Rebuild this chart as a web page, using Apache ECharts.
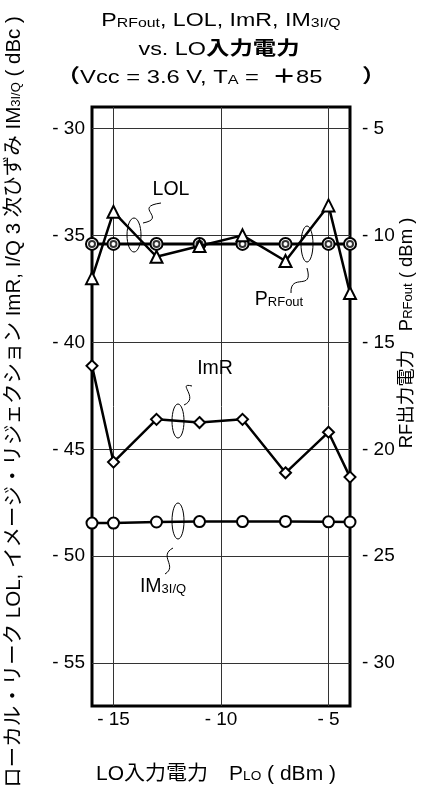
<!DOCTYPE html>
<html>
<head>
<meta charset="utf-8">
<script src="https://cdn.jsdelivr.net/npm/echarts@6/dist/echarts.min.js"></script>
<style>
  html, body { margin: 0; padding: 0; background: #fff; }
  #chart { width: 424px; height: 807px; }
</style>
</head>
<body>
<div id="chart"></div>
<script>
// LO input power (dBm)
var loPower = [-16, -15, -13, -11, -9, -7, -5, -4]
// right axis (dBm)
var prfOut = [-10.4, -10.4, -10.4, -10.4, -10.4, -10.4, -10.4, -10.4]
// left axis (dBc)
var lol = [-37.0, -33.9, -36.0, -35.5, -35.0, -36.2, -33.6, -37.7]
var imr = [-41.1, -45.6, -43.6, -43.75, -43.6, -46.1, -44.2, -46.3]
var im3 = [-48.45, -48.45, -48.4, -48.38, -48.38, -48.37, -48.39, -48.4]

var xTicks = [-15, -10, -5]
var leftTicks = [-55, -50, -45, -40, -35, -30]
var rightTicks = [-30, -25, -20, -15, -10, -5]

var FONT = '"Liberation Sans", "Noto Sans CJK JP", sans-serif'

function pairs(ys) {
  return loPower.map(function(x, i) { return [x, ys[i]] })
}
function minusFmt(v) {
  return v < 0 ? '- ' + Math.abs(v) : String(v)
}

function richFor(size, sub) {
  return {
    n: { fontSize: size, fontFamily: FONT, color: '#000', verticalAlign: 'bottom' },
    b: { fontSize: size, fontFamily: FONT, fontWeight: 'bold', color: '#000', verticalAlign: 'bottom' },
    s: { fontSize: sub, fontFamily: FONT, color: '#000', verticalAlign: 'bottom', padding: [0, 0, 1, 0] }
  }
}

function label(x, y, text, size, sub, sx, rot) {
  return {
    type: 'text', x: x, y: y, scaleX: sx || 1, rotation: rot || 0, z: 20,
    style: {
      text: text, font: size + 'px ' + FONT, fill: '#000',
      align: 'center', verticalAlign: 'middle', rich: richFor(size, sub)
    }
  }
}
var thin = { fill: 'none', stroke: '#000', lineWidth: 1 }

var myChart = echarts.init(document.getElementById('chart'))
var option = {
  animation: false,
  backgroundColor: '#fff',
  textStyle: { fontFamily: FONT },
  grid: {
    left: 92,
    right: 74,
    top: 107,
    bottom: 101,
    show: true,
    borderColor: '#000',
    borderWidth: 3
  },
  xAxis: {
    type: 'value',
    min: -16,
    max: -4,
    axisLine: { show: false },
    axisTick: { show: false, customValues: xTicks },
    splitLine: { show: true, lineStyle: { color: '#333', width: 1 } },
    axisLabel: {
      customValues: xTicks,
      formatter: minusFmt,
      color: '#000',
      fontSize: 19,
      margin: 4
    }
  },
  yAxis: [
    {
      type: 'value',
      min: -57,
      max: -29,
      axisLine: { show: false },
      axisTick: { show: false, customValues: leftTicks },
      splitLine: { show: true, lineStyle: { color: '#333', width: 1 } },
      axisLabel: {
        customValues: leftTicks,
        formatter: minusFmt,
        color: '#000',
        fontSize: 19,
        margin: 7
      }
    },
    {
      type: 'value',
      min: -32,
      max: -4,
      position: 'right',
      axisLine: { show: false },
      axisTick: { show: false, customValues: rightTicks },
      splitLine: { show: false },
      axisLabel: {
        customValues: rightTicks,
        formatter: minusFmt,
        color: '#000',
        fontSize: 19,
        margin: 12
      }
    }
  ],
  graphic: [
    // title
    label(221, 21, 'P{s|RFout}{n|, LOL, ImR, IM}{s|3I/Q}', 19, 13, 1.22),
    label(219, 50, 'vs. LO{b|入力電力}', 19, 13, 1.23),
    label(221, 78, '{b|（}Vcc = 3.6 V, T{s|A}{n| =  }{b|＋}{n|85      }{b|）}', 19, 13, 1.25),
    // axis names
    label(216, 774, 'LO入力電力　P{s|LO}{n| ( dBm )}', 20, 13, 1.05),
    label(14, 402, 'ローカル・リーク LOL, イメージ・リジェクション ImR, I/Q 3 次ひずみ IM{s|3I/Q}{n| ( dBc )}', 20.5, 13, 1, Math.PI / 2),
    label(407, 333, 'RF出力電力　P{s|RFout}{n| ( dBm )}', 18.5, 13, 1, Math.PI / 2),
    // annotation labels
    label(171, 190, 'LOL', 19.5, 13),
    label(279, 300, 'P{s|RFout}', 19.5, 13),
    label(215, 369, 'ImR', 19.5, 13),
    label(163, 587, 'IM{s|3I/Q}', 19.5, 13),
    // loops
    { type: 'ellipse', shape: { cx: 134, cy: 235, rx: 7, ry: 17 }, style: thin, z: 10 },
    { type: 'ellipse', shape: { cx: 307, cy: 244, rx: 6, ry: 18 }, style: thin, z: 10 },
    { type: 'ellipse', shape: { cx: 178, cy: 421, rx: 6, ry: 17 }, style: thin, z: 10 },
    { type: 'ellipse', shape: { cx: 178, cy: 521, rx: 6, ry: 18 }, style: thin, z: 10 },
    // squiggles
    { type: 'bezierCurve', shape: { x1: 143, y1: 223, cpx1: 168, cpy1: 218, cpx2: 132, cpy2: 207, x2: 161, y2: 203 }, style: thin, z: 10 },
    { type: 'bezierCurve', shape: { x1: 307, y1: 268, cpx1: 314, cpy1: 292, cpx2: 290, cpy2: 272, x2: 291, y2: 293 }, style: thin, z: 10 },
    { type: 'bezierCurve', shape: { x1: 192, y1: 386, cpx1: 176, cpy1: 382, cpx2: 200, cpy2: 398, x2: 184, y2: 405 }, style: thin, z: 10 },
    { type: 'bezierCurve', shape: { x1: 173, y1: 548, cpx1: 158, cpy1: 556, cpx2: 178, cpy2: 566, x2: 165, y2: 574 }, style: thin, z: 10 }
  ],
  series: [
    {
      name: 'IM3I/Q',
      type: 'line',
      data: pairs(im3),
      symbol: 'emptyCircle',
      symbolSize: 11,
      lineStyle: { color: '#000', width: 2.5 },
      itemStyle: { color: '#000', borderWidth: 1.3 }
    },
    {
      name: 'ImR',
      type: 'line',
      data: pairs(imr),
      symbol: 'emptyDiamond',
      symbolSize: 11,
      lineStyle: { color: '#000', width: 2.5 },
      itemStyle: { color: '#000', borderWidth: 1.3 }
    },
    {
      name: 'PRFout',
      type: 'line',
      yAxisIndex: 1,
      data: pairs(prfOut),
      symbol: 'emptyCircle',
      symbolSize: 12,
      lineStyle: { color: '#000', width: 3 },
      itemStyle: { color: '#000', borderWidth: 1.3 }
    },
    {
      name: 'PRFout-inner',
      type: 'scatter',
      yAxisIndex: 1,
      data: pairs(prfOut),
      symbol: 'emptyCircle',
      symbolSize: 6,
      itemStyle: { color: '#000', borderWidth: 1.2 },
      z: 4
    },
    {
      name: 'LOL',
      type: 'line',
      data: pairs(lol),
      symbol: 'emptyTriangle',
      symbolSize: 12,
      lineStyle: { color: '#000', width: 2.5 },
      itemStyle: { color: '#000', borderWidth: 1.3 },
      z: 5
    }
  ]
}
myChart.setOption(option)
</script>
</body>
</html>
